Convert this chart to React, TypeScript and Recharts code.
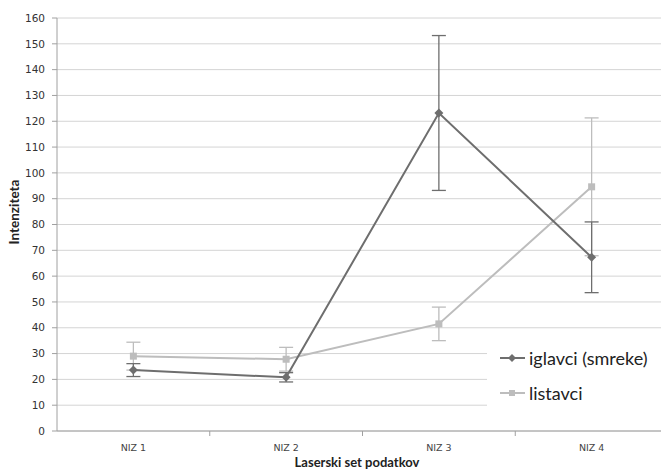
import { LineChart, Line, XAxis, YAxis, CartesianGrid, ErrorBar, Legend } from "recharts";

const categories = ["NIZ 1", "NIZ 2", "NIZ 3", "NIZ 4"];
const iglavci = [23.6, 20.8, 123.2, 67.3];
const iglavciErr = [2.5, 1.8, 30, 13.7];
const listavci = [29, 27.8, 41.5, 94.6];
const listavciErr = [5.4, 4.6, 6.5, 26.7];
const yTicks = [0, 10, 20, 30, 40, 50, 60, 70, 80, 90, 100, 110, 120, 130, 140, 150, 160];

const DARK = "#6e6e6e";
const LIGHT = "#bdbdbd";

// category centres sit at 0.5, 1.5 ... on a numeric axis so ticks can sit between them
const data = categories.map((name, i) => ({
  x: i + 0.5,
  name,
  iglavci: iglavci[i],
  iglavciErr: iglavciErr[i],
  listavci: listavci[i],
  listavciErr: listavciErr[i],
}));

const xTicks = [0.5, 1, 1.5, 2, 2.5, 3, 3.5];

function XTick(props: any) {
  const { x, y, payload } = props;
  const v = payload.value;
  if (Number.isInteger(v)) {
    return <line x1={x} x2={x} y1={y} y2={y + 5} stroke="#a0a0a0" />;
  }
  return (
    <text x={x} y={y + 20} textAnchor="middle" fontSize={9.5} fill="#444" fontFamily="DejaVu Sans">
      {categories[Math.floor(v)]}
    </text>
  );
}

function Diamond(props: any) {
  const { cx, cy } = props;
  if (cx == null || cy == null) return null;
  return <polygon points={`${cx},${cy - 4.5} ${cx + 4.5},${cy} ${cx},${cy + 4.5} ${cx - 4.5},${cy}`} fill={DARK} />;
}

function Square(props: any) {
  const { cx, cy } = props;
  if (cx == null || cy == null) return null;
  return <rect x={cx - 3.5} y={cy - 3.5} width={7} height={7} fill={LIGHT} />;
}

function LegendBox() {
  const items = [
    { label: "iglavci (smreke)", color: DARK, diamond: true },
    { label: "listavci", color: LIGHT, diamond: false },
  ];
  return (
    <div style={{ background: "#fff", paddingLeft: 13, paddingTop: 2, height: 76 }}>
      {items.map((it) => (
        <div key={it.label} style={{ display: "flex", alignItems: "center", height: 35 }}>
          <svg width={28} height={12} style={{ marginRight: 1 }}>
            <line x1={0} x2={25} y1={6} y2={6} stroke={it.color} strokeWidth={2} />
            {it.diamond ? (
              <polygon points="12,2 16,6 12,10 8,6" fill={it.color} />
            ) : (
              <rect x={9} y={3} width={6} height={6} fill={it.color} />
            )}
          </svg>
          <span style={{ fontFamily: "Lato", fontSize: 18, color: "#222", whiteSpace: "nowrap" }}>{it.label}</span>
        </div>
      ))}
    </div>
  );
}

export default function App() {
  return (
    <div style={{ position: "absolute", left: 0, top: 0, width: 661, height: 470, overflow: "hidden", background: "#fff" }}>
      <LineChart width={680} height={470} data={data} margin={{ top: 18, right: 12, left: 0, bottom: 0 }}>
        <CartesianGrid vertical={false} stroke="#d4d4d4" />
        <XAxis
          dataKey="x"
          type="number"
          domain={[0, 4]}
          ticks={xTicks}
          interval={0}
          tickLine={false}
          tickSize={0}
          tickMargin={0}
          height={39}
          stroke="#a0a0a0"
          tick={<XTick />}
          label={{
            content: () => (
              <text x={357} y={467} textAnchor="middle" fontFamily="Lato" fontWeight="bold" fontSize={13} fill="#222">
                Laserski set podatkov
              </text>
            ),
          }}
        />
        <YAxis
          domain={[0, 160]}
          ticks={yTicks}
          interval={0}
          width={57}
          tickSize={5}
          tickMargin={7}
          stroke="#a0a0a0"
          tick={{ fontSize: 10.5, fill: "#333", fontFamily: "DejaVu Sans" }}
          label={{
            content: () => (
              <text
                x={14}
                y={212}
                transform="rotate(-90 14 212)"
                textAnchor="middle"
                dominantBaseline="central"
                fontFamily="Lato"
                fontWeight="bold"
                fontSize={13.5}
                fill="#222"
              >
                Intenziteta
              </text>
            ),
          }}
        />
        <Legend
          layout="vertical"
          align="center"
          verticalAlign="middle"
          content={() => <LegendBox />}
          wrapperStyle={{ left: 487, top: 338, width: 200 }}
        />
        <Line
          dataKey="listavci"
          stroke={LIGHT}
          strokeWidth={2}
          dot={<Square />}
          activeDot={false}
          isAnimationActive={false}
        >
          <ErrorBar dataKey="listavciErr" width={7} stroke={LIGHT} strokeWidth={1.3} direction="y" />
        </Line>
        <Line
          dataKey="iglavci"
          stroke={DARK}
          strokeWidth={2}
          dot={<Diamond />}
          activeDot={false}
          isAnimationActive={false}
        >
          <ErrorBar dataKey="iglavciErr" width={7} stroke={DARK} strokeWidth={1.3} direction="y" />
        </Line>
      </LineChart>
    </div>
  );
}
